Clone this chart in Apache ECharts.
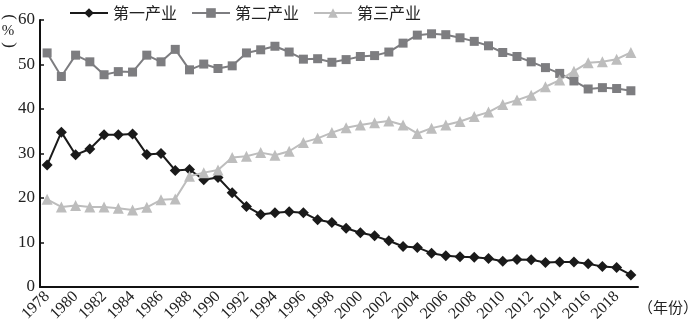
<!DOCTYPE html>
<html><head><meta charset="utf-8">
<script src="https://cdn.jsdelivr.net/npm/echarts@6/dist/echarts.min.js"></script>
<style>html,body{margin:0;padding:0;background:#fff}#c{width:694px;height:328px}</style>
</head><body><div id="c"></div>
<script>
const years = [];
for (let y = 1978; y <= 2019; y++) years.push(String(y));
const primary = [27.4,34.8,29.7,31.0,34.2,34.2,34.4,29.8,30.0,26.2,26.4,24.1,24.6,21.2,18.1,16.3,16.7,16.9,16.7,15.1,14.5,13.2,
  12.2,11.5,10.4,9.1,8.9,7.6,7.0,6.8,6.7,6.4,5.8,6.2,6.1,5.5,5.6,5.6,5.2,4.6,4.4,2.7];
const secondary = [52.6,47.3,52.1,50.6,47.7,48.4,48.3,52.1,50.6,53.4,48.8,50.1,49.1,49.7,52.6,53.3,54.1,52.8,51.2,51.3,50.5,51.1,
  51.8,52.0,52.8,54.8,56.6,56.9,56.7,56.0,55.2,54.2,52.7,51.8,50.6,49.3,48.0,46.3,44.5,44.8,44.6,44.1];
const tertiary = [19.7,18.0,18.3,18.0,18.0,17.7,17.3,17.9,19.6,19.8,24.9,25.7,26.3,29.1,29.4,30.2,29.6,30.5,32.5,33.4,34.7,35.8,
  36.4,36.9,37.3,36.4,34.5,35.7,36.4,37.2,38.3,39.3,41.0,42.0,43.1,45.0,46.5,48.5,50.4,50.6,51.2,52.7];
const names = ['第一产业','第二产业','第三产业'];

const serif = '"Liberation Serif","DejaVu Serif",serif';
const cjk = '"Noto Sans CJK SC","Liberation Serif",serif';
const chart = echarts.init(document.getElementById('c'));
chart.setOption({
  animation: false,
  grid: {left: 40, right: 56, top: 20, bottom: 41, containLabel: false},
  legend: {
    top: 0, left: 64, itemGap: 14, itemWidth: 38, itemHeight: 12,
    textStyle: {fontFamily: cjk, fontSize: 16, color: '#222'},
    data: names
  },
  xAxis: {
    type: 'category', data: years, boundaryGap: true,
    axisLine: {lineStyle: {color: '#111', width: 2}},
    axisTick: {inside: true, length: 6, interval: 1, lineStyle: {color: '#111', width: 1.5}},
    axisLabel: {interval: 1, rotate: 45, fontFamily: serif, fontSize: 16, color: '#222', margin: 7}
  },
  yAxis: {
    type: 'value', min: 0, max: 60, interval: 10,
    axisLine: {show: true, lineStyle: {color: '#111', width: 2}},
    axisTick: {show: true, inside: true, length: 4, lineStyle: {color: '#111', width: 1.5}},
    splitLine: {show: false},
    axisLabel: {fontFamily: serif, fontSize: 17, color: '#222', margin: 5}
  },
  graphic: [
    {type: 'text', x: 9, y: 17, rotation: -Math.PI / 2, style: {text: '(', fontFamily: serif, fontSize: 17, fill: '#222', align: 'center', verticalAlign: 'middle'}},
    {type: 'text', x: 8, y: 31, style: {text: '%', fontFamily: serif, fontSize: 15, fill: '#222', align: 'center', verticalAlign: 'middle'}},
    {type: 'text', x: 9, y: 45, rotation: -Math.PI / 2, style: {text: ')', fontFamily: serif, fontSize: 17, fill: '#222', align: 'center', verticalAlign: 'middle'}},
    {type: 'text', left: 638, top: 300, style: {text: '（年份）', fontFamily: cjk, fontSize: 15, fill: '#222'}}
  ],
  series: [
    {name: names[0], type: 'line', data: primary, symbol: 'diamond', symbolSize: 11, showAllSymbol: true,
     lineStyle: {color: '#1a1a1a', width: 2}, itemStyle: {color: '#1a1a1a'}},
    {name: names[1], type: 'line', data: secondary, symbol: 'rect', symbolSize: 9, showAllSymbol: true,
     lineStyle: {color: '#7d7d80', width: 2}, itemStyle: {color: '#7d7d80'}},
    {name: names[2], type: 'line', data: tertiary, symbol: 'triangle', symbolSize: 11, showAllSymbol: true,
     lineStyle: {color: '#bdbdbd', width: 2}, itemStyle: {color: '#bdbdbd'}}
  ]
});
</script></body></html>
